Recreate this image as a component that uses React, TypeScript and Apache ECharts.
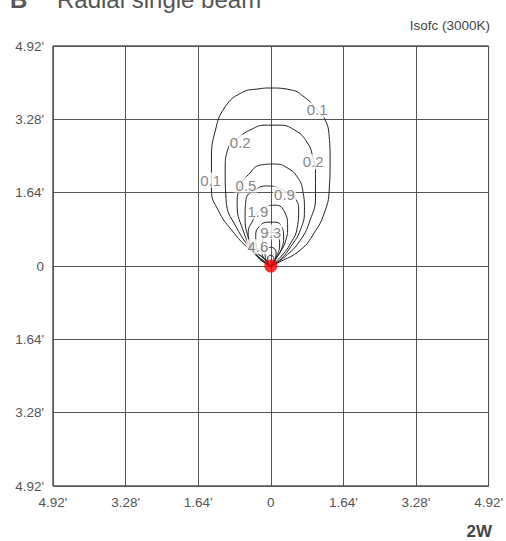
import React, { useEffect, useRef } from "react";
import * as echarts from "echarts";

const AXIS_MIN = -4.92;
const AXIS_MAX = 4.92;
const AXIS_STEP = 1.64;

// Isolux contours (feet), each starting and ending at the luminaire (0,0)
const contour01: number[][] = [
  [0, 0], [-0.47, 0.36], [-0.89, 0.81], [-1.19, 1.25], [-1.34, 1.7], [-1.34, 2.37],
  [-1.25, 3.04], [-1.03, 3.56], [-0.67, 3.87], [-0.29, 3.96], [0, 3.98], [0.45, 3.94],
  [0.78, 3.76], [1.05, 3.49], [1.21, 3.31], [1.32, 2.89], [1.34, 2.37], [1.32, 1.7],
  [1.21, 1.19], [0.98, 0.74], [0.67, 0.36], [0.16, 0.07], [0, 0],
];
const contour02: number[][] = [
  [0, 0], [-0.36, 0.29], [-0.78, 0.87], [-1.01, 1.48], [-1.03, 2.15], [-0.96, 2.64],
  [-0.69, 2.9], [-0.47, 3.04], [-0.13, 3.15], [0.16, 3.15], [0.54, 3.04], [0.83, 2.75],
  [0.96, 2.4], [1.01, 2.15], [1.01, 1.54], [0.89, 1.03], [0.67, 0.58], [0.31, 0.2], [0, 0],
];
const contour05: number[][] = [
  [0, 0], [-0.34, 0.25], [-0.63, 0.81], [-0.76, 1.41], [-0.68, 1.8], [-0.51, 2.04],
  [-0.22, 2.26], [0.09, 2.28], [0.38, 2.19], [0.6, 1.99], [0.72, 1.7], [0.76, 1.25],
  [0.67, 0.81], [0.45, 0.43], [0.2, 0.13], [0, 0],
];
const contour09: number[][] = [
  [0, 0], [-0.29, 0.2], [-0.51, 0.65], [-0.58, 1.1], [-0.56, 1.48], [-0.36, 1.7],
  [-0.07, 1.79], [0.31, 1.68], [0.54, 1.52], [0.63, 1.25], [0.6, 0.87], [0.45, 0.51],
  [0.22, 0.2], [0, 0],
];
const contour19: number[][] = [
  [0, 0], [-0.18, 0.18], [-0.45, 0.43], [-0.51, 0.74], [-0.4, 1.03], [-0.29, 1.21],
  [-0.13, 1.32], [0.11, 1.36], [0.31, 1.21], [0.38, 0.87], [0.34, 0.58], [0.2, 0.29], [0, 0],
];
const contour46: number[][] = [
  [0, 0], [-0.11, 0.13], [-0.31, 0.36], [-0.34, 0.69], [-0.25, 0.89], [-0.07, 0.98],
  [0.11, 0.98], [0.25, 0.87], [0.29, 0.65], [0.25, 0.4], [0.11, 0.16], [0, 0],
];
const contour93: number[][] = [
  [0, 0], [-0.09, 0.09], [-0.2, 0.31], [-0.18, 0.58], [0, 0.76], [0.16, 0.67],
  [0.2, 0.47], [0.11, 0.18], [0, 0],
];
const contourInnerA: number[][] = [
  [0, 0], [-0.1, 0.12], [-0.13, 0.3], [0, 0.42], [0.12, 0.3], [0.09, 0.1], [0, 0],
];
const contourInnerB: number[][] = [
  [0, 0], [-0.06, 0.08], [-0.07, 0.18], [0, 0.24], [0.07, 0.17], [0.05, 0.06], [0, 0],
];

// Contour value labels: [x, y, text]
const contourLabels: [number, number, string][] = [
  [-1.36, 1.92, "0.1"],
  [1.05, 3.49, "0.1"],
  [-0.69, 2.77, "0.2"],
  [0.96, 2.33, "0.2"],
  [-0.56, 1.81, "0.5"],
  [0.31, 1.61, "0.9"],
  [-0.29, 1.21, "1.9"],
  [0, 0.76, "9.3"],
  [-0.29, 0.43, "4.6"],
];

const source: number[][] = [[0, 0]];

const contours = [
  contour01, contour02, contour05, contour09, contour19,
  contour46, contour93, contourInnerA, contourInnerB,
];

const fmt = (v: number) => {
  if (Math.abs(v) < 1e-6) return "0";
  return Math.abs(v).toFixed(2) + "'";
};

export default function App() {
  const ref = useRef<HTMLDivElement>(null);
  useEffect(() => {
    if (!ref.current) return;
    const chart = echarts.init(ref.current, undefined, { renderer: "svg" });
    const font = "'Liberation Sans', Arial, Helvetica, sans-serif";
    const lineSeries = contours.map((c) => ({
      type: "line",
      data: c,
      smooth: 0.5,
      showSymbol: false,
      symbol: "none",
      silent: true,
      z: 3,
      lineStyle: { color: "#222", width: 1 },
    }));
    chart.setOption({
      animation: false,
      grid: {
        left: 53,
        right: 14,
        top: 46,
        bottom: 55,
        show: true,
        borderColor: "#000",
        borderWidth: 1,
        backgroundColor: "transparent",
      },
      xAxis: {
        type: "value",
        min: AXIS_MIN,
        max: AXIS_MAX,
        interval: AXIS_STEP,
        axisLine: { show: false },
        axisTick: { show: false },
        splitLine: { show: true, lineStyle: { color: "#555", width: 1 } },
        axisLabel: {
          formatter: fmt,
          color: "#555",
          fontSize: 13.5,
          fontFamily: font,
          margin: 9,
          showMinLabel: true,
          showMaxLabel: true,
        },
      },
      yAxis: {
        type: "value",
        min: AXIS_MIN,
        max: AXIS_MAX,
        interval: AXIS_STEP,
        axisLine: { show: false },
        axisTick: { show: false },
        splitLine: { show: true, lineStyle: { color: "#555", width: 1 } },
        axisLabel: {
          formatter: fmt,
          color: "#555",
          fontSize: 13.5,
          fontFamily: font,
          margin: 9,
          showMinLabel: true,
          showMaxLabel: true,
        },
      },
      series: [
        ...lineSeries,
        {
          type: "scatter",
          data: contourLabels.map((l) => ({ value: [l[0], l[1]], name: l[2] })),
          symbolSize: 1,
          itemStyle: { color: "rgba(0,0,0,0)" },
          silent: true,
          z: 5,
          label: {
            show: true,
            position: "inside",
            formatter: (p: any) => p.name,
            color: "#666",
            fontSize: 15,
            fontFamily: font,
            backgroundColor: "#fff",
            padding: [0, 1],
          },
        },
        {
          type: "scatter",
          data: source,
          symbolSize: 13,
          silent: true,
          z: 6,
          itemStyle: { color: "#ff0000" },
        },
      ],
      graphic: [
        {
          type: "text",
          left: 10,
          top: -13,
          style: {
            text: "B",
            font: `bold 24px ${font}`,
            fill: "#555",
          },
        },
        {
          type: "text",
          left: 57,
          top: -13,
          style: {
            text: "Radial single beam",
            font: `24px ${font}`,
            fill: "#555",
          },
        },
        {
          type: "text",
          right: 16,
          top: 18,
          style: {
            text: "Isofc (3000K)",
            font: `13.5px ${font}`,
            fill: "#444",
          },
        },
        {
          type: "text",
          right: 14,
          top: 523,
          style: {
            text: "2W",
            font: `bold 17px ${font}`,
            fill: "#444",
          },
        },
      ],
    });
    return () => chart.dispose();
  }, []);
  return (
    <div
      ref={ref}
      style={{ position: "absolute", left: 0, top: 0, width: 506, height: 541 }}
    />
  );
}
